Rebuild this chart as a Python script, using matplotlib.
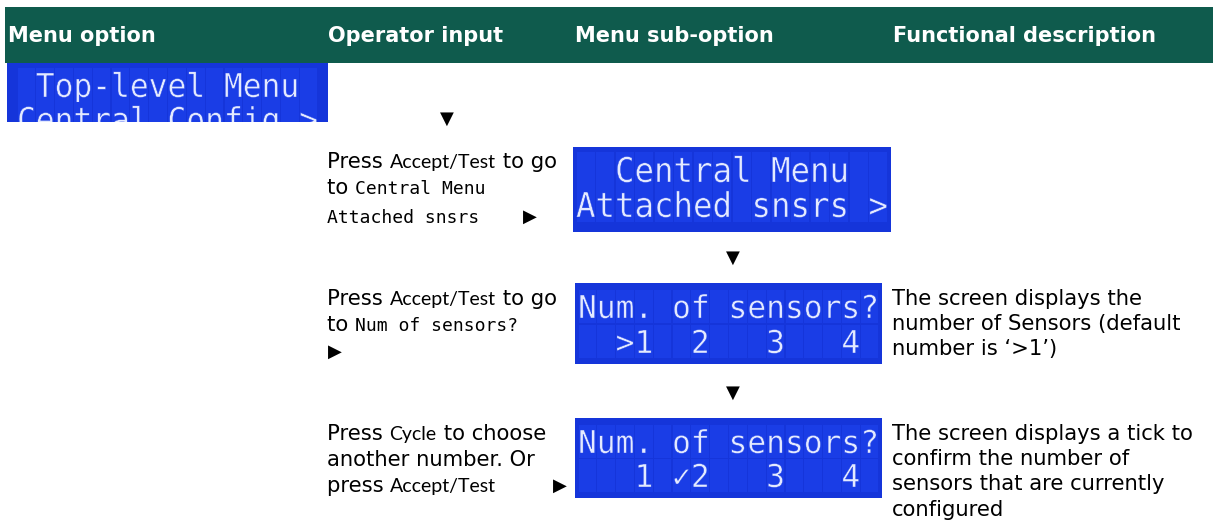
import matplotlib
matplotlib.use('Agg')
import matplotlib.pyplot as plt
from matplotlib.patches import Rectangle, PathPatch
from matplotlib.textpath import TextPath
from matplotlib.font_manager import FontProperties
from matplotlib.transforms import Affine2D

W, H = 1213, 526

# ---- content ----
headers = ['Menu option', 'Operator input', 'Menu sub-option', 'Functional description']
header_x = [8, 328, 575, 893]

lcd_top = [' Top-level Menu ', 'Central Config >']
lcd_central = ['  Central Menu  ', 'Attached snsrs >']
lcd_num = ['Num. of sensors?', '  >1  2   3   4 ']
lcd_tick = ['Num. of sensors?', '   1 \u27132   3   4 ']

op_row1 = [[('Press ', 'sans'), ('Accept/Test', 'cal'), (' to go', 'sans')],
           [('to ', 'sans'), ('Central Menu', 'mono')],
           [('Attached snsrs', 'mono')]]
op_row2 = [[('Press ', 'sans'), ('Accept/Test', 'cal'), (' to go', 'sans')],
           [('to ', 'sans'), ('Num of sensors?', 'mono')]]
op_row3 = [[('Press ', 'sans'), ('Cycle', 'cal'), (' to choose', 'sans')],
           [('another number. Or', 'sans')],
           [('press ', 'sans'), ('Accept/Test', 'cal')]]

desc_row2 = ['The screen displays the', 'number of Sensors (default', 'number is \u2018>1\u2019)']
desc_row3 = ['The screen displays a tick to', 'confirm the number of',
             'sensors that are currently', 'configured']

# ---- colours / fonts ----
HEAD_BG = '#0f5b4d'
LCD_BG = '#1535da'
LCD_CELL = '#1a3de6'
LCD_TXT = '#e4eaff'

styles = {
    'sans': dict(family='DejaVu Sans', size=15.2),
    'cal': dict(family='Lato', size=14),
    'mono': dict(family='DejaVu Sans Mono', size=13),
}

fig = plt.figure(figsize=(W / 100, H / 100), dpi=100)
ax = fig.add_axes([0, 0, 1, 1])
ax.set_xlim(0, W)
ax.set_ylim(H, 0)
ax.axis('off')
renderer = fig.canvas.get_renderer()


def width_of(s, style):
    # bar trick so that leading / trailing spaces are counted
    a = ax.text(0, 0, '|' + s + '|', **styles[style])
    b = ax.text(0, 0, '||', **styles[style])
    w = a.get_window_extent(renderer).width - b.get_window_extent(renderer).width
    a.remove()
    b.remove()
    return w


def runs(x, y, parts):
    for s, st in parts:
        ax.text(x, y, s, va='baseline', ha='left', color='black', **styles[st])
        x += width_of(s, st)
    return x


def lcd(x0, y0, x1, y1, lines, baselines, cap, pad=3):
    box = Rectangle((x0, y0), x1 - x0, y1 - y0, fc=LCD_BG, ec='none')
    ax.add_patch(box)
    cw = (x1 - x0 - 2 * pad) / 16
    fp = FontProperties(family=['DejaVu Sans Mono', 'DejaVu Sans'])
    for s, yb in zip(lines, baselines):
        for c in range(16):
            cell = Rectangle((x0 + pad + c * cw + 0.6, yb - cap - 5), cw - 1.2, cap + 10,
                             fc=LCD_CELL, ec='none')
            ax.add_patch(cell)
            cell.set_clip_path(box)
        tp = TextPath((0, 0), s, size=1, prop=fp)
        tr = Affine2D().scale(cw / 0.602, -cap / 0.729).translate(x0 + pad, yb)
        # thin edge in the cell colour makes the strokes a bit lighter
        p = PathPatch(tr.transform_path(tp), fc=LCD_TXT, ec=LCD_CELL, lw=0.3)
        ax.add_patch(p)
        p.set_clip_path(box)


# header band
ax.add_patch(Rectangle((5, 7), W - 5, 56, fc=HEAD_BG, ec='none'))
for name, hx in zip(headers, header_x):
    ax.text(hx, 36, name, color='white', fontweight='bold', family='DejaVu Sans',
            size=15, va='center', ha='left')

# LCD screens
lcd(7, 63, 328, 122, lcd_top, [97, 131], 24, pad=10)
lcd(573, 147, 891, 232, lcd_central, [182, 217], 25)
lcd(575, 283, 882, 364, lcd_num, [318, 353], 23)
lcd(575, 418, 882, 498, lcd_tick, [453, 487], 23)

# down arrows
for (ax_x, ax_y) in [(447, 119), (733, 258), (733, 393)]:
    ax.text(ax_x, ax_y, '\u25BC', ha='center', va='center', size=13, color='black')

# operator input column
for parts, yb in zip(op_row1, [168, 194, 223]):
    runs(327, yb, parts)
ax.text(530, 217, '\u25B6', ha='center', va='center', size=13)

for parts, yb in zip(op_row2, [305, 331]):
    runs(327, yb, parts)
ax.text(335, 352, '\u25B6', ha='center', va='center', size=13)

for parts, yb in zip(op_row3, [440, 466, 492]):
    runs(327, yb, parts)
ax.text(560, 486, '\u25B6', ha='center', va='center', size=13)

# functional description column
for s, yb in zip(desc_row2, [305, 330, 355]):
    ax.text(892, yb, s, va='baseline', **styles['sans'])
for s, yb in zip(desc_row3, [440, 465, 490, 516]):
    ax.text(892, yb, s, va='baseline', **styles['sans'])

fig.savefig('out.png', dpi=100)
